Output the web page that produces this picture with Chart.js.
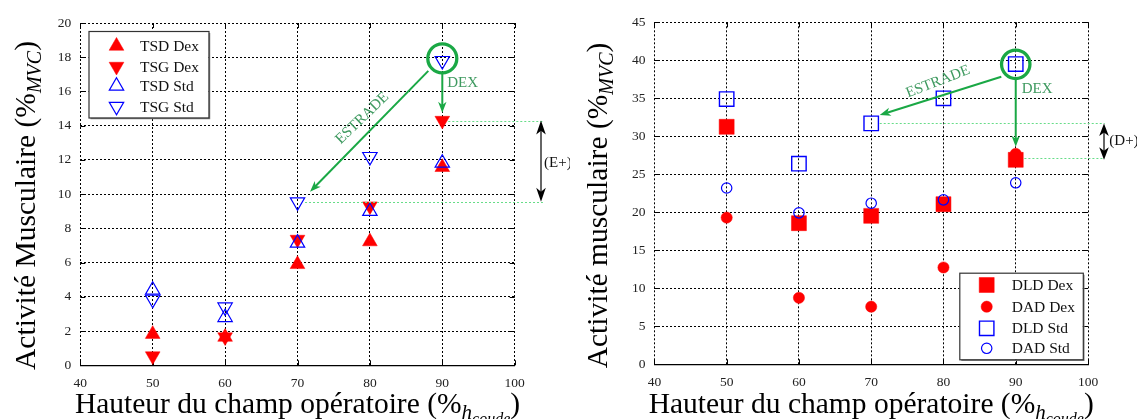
<!DOCTYPE html>
<html><head><meta charset="utf-8">
<script src="https://cdn.jsdelivr.net/npm/chart.js@4/dist/chart.umd.min.js"></script>
<style>
html,body{margin:0;padding:0;background:#fff;}
#wrap{position:relative;width:1137px;height:419px;overflow:hidden;background:#fff;}
#c1{position:absolute;left:0;top:0;}
#c2{position:absolute;left:570px;top:0;}
</style></head><body>
<div id="wrap">
<canvas id="c1" width="570" height="419"></canvas>
<canvas id="c2" width="567" height="419"></canvas>
</div>
<script>
// ---------- data ----------
const heights = [50, 60, 70, 80, 90];
const xTickLabels = [40, 50, 60, 70, 80, 90, 100];
const yTicksLeft = [0, 2, 4, 6, 8, 10, 12, 14, 16, 18, 20];
const yTicksRight = [0, 5, 10, 15, 20, 25, 30, 35, 40, 45];

const tsdDex = [1.82, 1.65, 5.9, 7.23, 11.57];
const tsgDex = [0.54, 1.65, 7.35, 9.3, 14.3];
const tsdStd = [4.4, 2.8, 7.15, 9.0, 11.82];
const tsgStd = [3.85, 3.4, 9.54, 12.19, 17.8];

const dldDex = [31.25, 18.57, 19.53, 21.07, 26.9];
const dadDex = [19.3, 8.75, 7.58, 12.74, 27.7];
const dldStd = [34.9, 26.4, 31.7, 35.0, 39.5];
const dadStd = [23.2, 19.93, 21.2, 21.64, 23.88];

const leftLabels = ['TSD Dex', 'TSG Dex', 'TSD Std', 'TSG Std'];
const rightLabels = ['DLD Dex', 'DAD Dex', 'DLD Std', 'DAD Std'];

// ---------- styles ----------
const RED = '#ff0000', BLUE = '#0000ff';
const GREEN = '#1aa845', GREEN_TXT = '#3f9a60', GREEN_DASH = '#66dd88';
const SERIF = "'Liberation Serif', 'DejaVu Serif', serif";

function pts(vals) { return heights.map((h, i) => ({ x: h, y: vals[i] })); }

function ds(label, vals, style) {
  return Object.assign({ label, data: pts(vals), showLine: false }, style);
}
const sTriUpFill = { pointStyle: 'triangle', pointRadius: 8.5, pointRotation: 0, backgroundColor: RED, borderColor: RED, pointBorderWidth: 0.5, order: 2 };
const sTriDnFill = { pointStyle: 'triangle', pointRadius: 8.5, pointRotation: 180, backgroundColor: RED, borderColor: RED, pointBorderWidth: 0.5, order: 2 };
const sTriUpOpen = { pointStyle: 'triangle', pointRadius: 8.3, pointRotation: 0, backgroundColor: 'rgba(0,0,0,0)', borderColor: BLUE, pointBorderWidth: 1.2, order: 1 };
const sTriDnOpen = { pointStyle: 'triangle', pointRadius: 8.3, pointRotation: 180, backgroundColor: 'rgba(0,0,0,0)', borderColor: BLUE, pointBorderWidth: 1.2, order: 1 };
const sSqFill = { pointStyle: 'rect', pointRadius: 10.6, backgroundColor: RED, borderColor: RED, pointBorderWidth: 0.5, order: 3 };
const sCircFill = { pointStyle: 'circle', pointRadius: 5.6, backgroundColor: RED, borderColor: RED, pointBorderWidth: 0.5, order: 2 };
const sSqOpen = { pointStyle: 'rect', pointRadius: 10.2, backgroundColor: 'rgba(0,0,0,0)', borderColor: BLUE, pointBorderWidth: 1.4, order: 1 };
const sCircOpen = { pointStyle: 'circle', pointRadius: 5.2, backgroundColor: 'rgba(0,0,0,0)', borderColor: BLUE, pointBorderWidth: 1.2, order: 0 };

// ---------- drawing helpers ----------
function arrowHead(ctx, x, y, ang, len, halfW, color) {
  ctx.save();
  ctx.translate(x, y); ctx.rotate(ang);
  ctx.beginPath();
  ctx.moveTo(0, 0); ctx.lineTo(-len, -halfW); ctx.lineTo(-len * 0.72, 0); ctx.lineTo(-len, halfW);
  ctx.closePath();
  ctx.fillStyle = color; ctx.fill();
  ctx.restore();
}
function arrow(ctx, x1, y1, x2, y2, color, lw, len, hw) {
  const ang = Math.atan2(y2 - y1, x2 - x1);
  ctx.save();
  ctx.strokeStyle = color; ctx.lineWidth = lw;
  ctx.beginPath(); ctx.moveTo(x1, y1);
  ctx.lineTo(x2 - Math.cos(ang) * len * 0.7, y2 - Math.sin(ang) * len * 0.7);
  ctx.stroke();
  ctx.restore();
  arrowHead(ctx, x2, y2, ang, len, hw, color);
}
function dashed(ctx, x1, y1, x2, y2) {
  ctx.save();
  ctx.strokeStyle = GREEN_DASH; ctx.lineWidth = 1; ctx.setLineDash([2, 2]);
  ctx.beginPath(); ctx.moveTo(x1, Math.round(y1) + 0.5); ctx.lineTo(x2, Math.round(y2) + 0.5); ctx.stroke();
  ctx.restore();
}
function drawParts(ctx, parts, cx, cy, rot) {
  ctx.save();
  ctx.translate(cx, cy); ctx.rotate(rot);
  let total = 0;
  parts.forEach(p => { ctx.font = p.font; p.w = ctx.measureText(p.t).width; total += p.w + (p.gap || 0); });
  let x = -total / 2;
  ctx.textBaseline = 'alphabetic'; ctx.textAlign = 'left'; ctx.fillStyle = '#000';
  parts.forEach(p => { ctx.font = p.font; ctx.fillText(p.t, x, p.dy || 0); x += p.w + (p.gap || 0); });
  ctx.restore();
}
function marker(ctx, style, x, y) {
  ctx.save();
  ctx.fillStyle = style.backgroundColor;
  ctx.strokeStyle = style.borderColor;
  ctx.lineWidth = style.pointBorderWidth;
  Chart.helpers.drawPoint(ctx, { pointStyle: style.pointStyle, rotation: style.pointRotation || 0, radius: style.pointRadius, borderWidth: style.pointBorderWidth }, x, y);
  ctx.restore();
}
function legendBox(ctx, box, labels, styles, markerX, textX, rowsY) {
  ctx.save();
  ctx.fillStyle = '#fff';
  ctx.fillRect(box.x, box.y, box.w, box.h);
  ctx.strokeStyle = '#888'; ctx.lineWidth = 1.5;
  ctx.beginPath(); ctx.moveTo(box.x + box.w + 1, box.y + 2); ctx.lineTo(box.x + box.w + 1, box.y + box.h + 1); ctx.lineTo(box.x + 2, box.y + box.h + 1); ctx.stroke();
  ctx.strokeStyle = '#333'; ctx.lineWidth = 1.2;
  ctx.strokeRect(box.x + 0.5, box.y + 0.5, box.w, box.h);
  labels.forEach((lab, i) => {
    marker(ctx, styles[i], markerX, rowsY[i]);
    ctx.fillStyle = '#111';
    ctx.font = '15.5px ' + SERIF;
    ctx.textBaseline = 'middle'; ctx.textAlign = 'left';
    ctx.fillText(lab, textX, rowsY[i] + 1);
  });
  ctx.restore();
}

// ---------- annotation plugin ----------
function annotPlugin(cfg) {
  return {
    id: 'annot',
    beforeDatasetsDraw(chart) {
      // inward tick marks on all four sides
      const ctx = chart.ctx, ca = chart.chartArea, xs = chart.scales.x, ys = chart.scales.y;
      ctx.save();
      ctx.strokeStyle = '#000'; ctx.lineWidth = 1;
      ctx.beginPath();
      xs.ticks.forEach(t => {
        const px = Math.round(xs.getPixelForValue(t.value)) + 0.5;
        ctx.moveTo(px, ca.bottom); ctx.lineTo(px, ca.bottom - 5);
        ctx.moveTo(px, ca.top); ctx.lineTo(px, ca.top + 5);
      });
      ys.ticks.forEach(t => {
        const py = Math.round(ys.getPixelForValue(t.value)) + 0.5;
        ctx.moveTo(ca.left, py); ctx.lineTo(ca.left + 5, py);
        ctx.moveTo(ca.right, py); ctx.lineTo(ca.right - 5, py);
      });
      ctx.stroke();
      ctx.restore();
    },
    afterDatasetsDraw(chart) {
      const ctx = chart.ctx, xs = chart.scales.x, ys = chart.scales.y;
      const X = v => xs.getPixelForValue(v), Y = v => ys.getPixelForValue(v);
      const a = cfg.annot;
      a.guides.forEach(g => dashed(ctx, X(g.x1), Y(g.y), X(g.x2), Y(g.y)));
      ctx.save();
      ctx.strokeStyle = GREEN; ctx.lineWidth = 3.3;
      ctx.beginPath(); ctx.arc(X(a.circle.x), Y(a.circle.y), a.circle.r, 0, Math.PI * 2); ctx.stroke();
      ctx.restore();
      arrow(ctx, X(a.estrade.x1), Y(a.estrade.y1), X(a.estrade.x2), Y(a.estrade.y2), GREEN, 2, 11, 4.2);
      arrow(ctx, X(a.dex.x), Y(a.dex.y1), X(a.dex.x), Y(a.dex.y2), GREEN, 2, 11, 4.2);
      ctx.save();
      ctx.fillStyle = GREEN_TXT; ctx.font = '15px ' + SERIF;
      ctx.textAlign = 'center'; ctx.textBaseline = 'middle';
      ctx.translate(X(a.estradeText.x), Y(a.estradeText.y)); ctx.rotate(a.estradeText.rot * Math.PI / 180);
      ctx.fillText('ESTRADE', 0, 0);
      ctx.restore();
      ctx.save();
      ctx.fillStyle = GREEN_TXT; ctx.font = '15px ' + SERIF;
      ctx.textAlign = 'center'; ctx.textBaseline = 'middle';
      ctx.fillText('DEX', X(a.dexText.x), Y(a.dexText.y));
      ctx.restore();
      const bx = Math.round(X(a.gap.x)), by1 = Y(a.gap.y1), by2 = Y(a.gap.y2);
      ctx.save();
      ctx.strokeStyle = '#666'; ctx.lineWidth = 2;
      ctx.beginPath(); ctx.moveTo(bx, by1 + 8); ctx.lineTo(bx, by2 - 8); ctx.stroke();
      ctx.restore();
      arrowHead(ctx, bx, by1, -Math.PI / 2, a.gap.len, 4.8, '#000');
      arrowHead(ctx, bx, by2, Math.PI / 2, a.gap.len, 4.8, '#000');
      ctx.save();
      ctx.fillStyle = '#111'; ctx.font = '15px ' + SERIF;
      ctx.textAlign = 'left'; ctx.textBaseline = 'middle';
      ctx.fillText(a.gapText.t, X(a.gapText.x), Y(a.gapText.y));
      ctx.restore();
      const L = cfg.legend;
      legendBox(ctx, L.box, L.labels, L.styles, L.markerX, L.textX, L.rowsY);
    },
    afterDraw(chart) {
      const ctx = chart.ctx, ca = chart.chartArea;
      const main = '29.5px ' + SERIF;
      drawParts(ctx, [
        { t: 'Hauteur du champ opératoire (%', font: main },
        { t: 'h', font: 'italic 21px ' + SERIF, dy: 6 },
        { t: 'coude', font: 'italic 16px ' + SERIF, dy: 11 },
        { t: ')', font: main, gap: 0 }
      ], (ca.left + ca.right) / 2 + cfg.xTitleShift, 413, 0);
      drawParts(ctx, [
        { t: cfg.yTitle + ' (%', font: main },
        { t: 'MVC', font: 'italic 20px ' + SERIF, dy: 6 },
        { t: ')', font: main }
      ], cfg.yTitleX, 205.5, -Math.PI / 2);
    }
  };
}

function makeChart(id, cfg) {
  const W = cfg.W, H = 419, A = cfg.area;
  const axisFont = { family: SERIF, size: 13.5 };
  return new Chart(document.getElementById(id), {
    type: 'scatter',
    data: { datasets: cfg.datasets },
    options: {
      responsive: false, animation: false, events: [],
      layout: { padding: { left: 0, top: A.top, right: W - A.right, bottom: 0 } },
      plugins: { legend: { display: false }, tooltip: { enabled: false } },
      scales: {
        x: {
          type: 'linear', min: xTickLabels[0], max: xTickLabels[xTickLabels.length - 1],
          afterBuildTicks: s => { s.ticks = xTickLabels.map(v => ({ value: v })); },
          afterFit: s => { s.height = H - A.bottom; },
          grid: { color: '#000', lineWidth: 1, drawTicks: false, borderDash: [2, 2] },
          border: { display: true, color: '#000', width: 1.2, dash: [2, 2] },
          ticks: { font: axisFont, color: '#222', padding: 10, maxRotation: 0, autoSkip: false }
        },
        y: {
          type: 'linear', min: cfg.yTicks[0], max: cfg.yTicks[cfg.yTicks.length - 1],
          afterBuildTicks: s => { s.ticks = cfg.yTicks.map(v => ({ value: v })); },
          afterFit: s => { s.width = A.left; },
          grid: { color: '#000', lineWidth: 1, drawTicks: false, borderDash: [2, 2] },
          border: { display: false, color: '#000', dash: [2, 2] },
          ticks: { font: axisFont, color: '#222', padding: 9, autoSkip: false }
        }
      }
    },
    plugins: [annotPlugin(cfg)]
  });
}

const leftStyles = [sTriUpFill, sTriDnFill, sTriUpOpen, sTriDnOpen];
makeChart('c1', {
  W: 570, area: { left: 80.3, right: 514.7, top: 23, bottom: 365.3 },
  yTicks: yTicksLeft, yTitle: 'Activité Musculaire', yTitleX: 35, xTitleShift: 0,
  datasets: [
    ds(leftLabels[0], tsdDex, sTriUpFill),
    ds(leftLabels[1], tsgDex, sTriDnFill),
    ds(leftLabels[2], tsdStd, sTriUpOpen),
    ds(leftLabels[3], tsgStd, sTriDnOpen)
  ],
  annot: {
    circle: { x: 90, y: 17.93, r: 14.5 },
    estrade: { x1: 88.07, y1: 17.2, x2: 71.73, y2: 10.14 },
    dex: { x: 90, y1: 17.1, y2: 14.75 },
    estradeText: { x: 78.95, y: 14.43, rot: -44 },
    dexText: { x: 92.8, y: 16.5 },
    guides: [{ x1: 90.83, x2: 103.9, y: 14.27 }, { x1: 71.04, x2: 103.9, y: 9.52 }],
    gap: { x: 103.65, y1: 14.3, y2: 9.55, len: 14 },
    gapText: { t: '(E+)', x: 104.05, y: 11.84 }
  },
  legend: {
    labels: leftLabels, styles: leftStyles,
    box: { x: 88.5, y: 31, w: 120, h: 86.5 },
    markerX: 116.5, textX: 140, rowsY: [46, 66.5, 86, 106.5]
  }
});

const rightStyles = [sSqFill, sCircFill, sSqOpen, sCircOpen];
makeChart('c2', {
  W: 567, area: { left: 84.4, right: 518, top: 22.3, bottom: 364.3 },
  yTicks: yTicksRight, yTitle: 'Activité musculaire', yTitleX: 37, xTitleShift: 0,
  datasets: [
    ds(rightLabels[0], dldDex, sSqFill),
    ds(rightLabels[1], dadDex, sCircFill),
    ds(rightLabels[2], dldStd, sSqOpen),
    ds(rightLabels[3], dadStd, sCircOpen)
  ],
  annot: {
    circle: { x: 90, y: 39.47, r: 14.2 },
    estrade: { x1: 88.0, y1: 37.84, x2: 71.18, y2: 32.8 },
    dex: { x: 90, y1: 37.6, y2: 28.63 },
    estradeText: { x: 79.24, y: 37.18, rot: -21 },
    dexText: { x: 92.95, y: 36.28 },
    guides: [{ x1: 71.18, x2: 102.3, y: 31.71 }, { x1: 91.2, x2: 102.3, y: 27.1 }],
    gap: { x: 102.2, y1: 31.67, y2: 26.93, len: 12.5 },
    gapText: { t: '(D+)', x: 102.95, y: 29.34 }
  },
  legend: {
    labels: rightLabels, styles: rightStyles,
    box: { x: 389.3, y: 272.7, w: 123.5, h: 86.6 },
    markerX: 416.7, textX: 441.7, rowsY: [285, 306.7, 328.3, 348.3]
  }
});
</script>
</body></html>
